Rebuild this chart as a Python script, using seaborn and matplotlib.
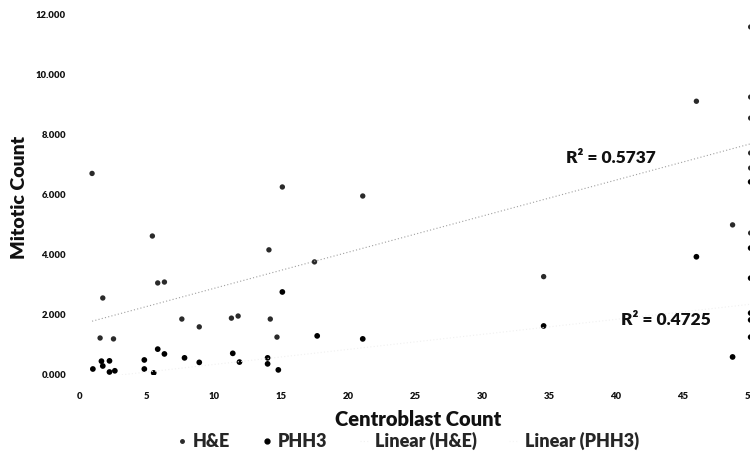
import numpy as np
import pandas as pd
import seaborn as sns
import matplotlib
matplotlib.use("Agg")
import matplotlib.pyplot as plt
from matplotlib.lines import Line2D

sns.set_style("white")
plt.rcParams['font.family'] = ['Lato', 'DejaVu Sans']
plt.rcParams['font.weight'] = 'heavy'

# H&E mitotic counts vs centroblast count
hne_x = [0.9, 5.4, 5.8, 6.3, 1.7, 7.6, 8.9, 11.3, 11.8, 1.5, 2.5, 15.1, 21.1, 14.1,
         17.5, 14.2, 14.7, 34.6, 46.0, 48.7, 50.05, 50.05, 50.05, 50.05, 50.05, 50.05]
hne_y = [6.70, 4.62, 3.06, 3.09, 2.56, 1.86, 1.60, 1.89, 1.96, 1.23, 1.20, 6.25, 5.95, 4.16,
         3.76, 1.86, 1.26, 3.27, 9.10, 4.99, 11.57, 9.24, 8.54, 7.38, 6.88, 4.72]

# PHH3 mitotic counts
phh3_x = [0.96, 1.6, 1.7, 2.2, 2.2, 2.6, 4.8, 4.8, 5.5, 5.8, 6.3, 7.8, 8.9, 11.4, 11.9,
          15.1, 17.7, 21.1, 14.0, 14.0, 14.8, 34.6, 46.0, 48.7,
          50.05, 50.05, 50.05, 50.05, 50.05, 50.05]
phh3_y = [0.20, 0.46, 0.30, 0.47, 0.10, 0.14, 0.50, 0.20, 0.07, 0.86, 0.70, 0.57, 0.42, 0.72, 0.43,
          2.76, 1.30, 1.20, 0.57, 0.37, 0.17, 1.63, 3.93, 0.60,
          6.42, 4.22, 3.22, 2.06, 1.83, 1.26]

# linear trend lines (intercept, slope) and R²
hne_fit = (1.68, 0.12)
phh3_fit = (-0.15, 0.05)
hne_r2 = "0.5737"
phh3_r2 = "0.4725"

df_hne = pd.DataFrame({"x": hne_x, "y": hne_y})
df_phh3 = pd.DataFrame({"x": phh3_x, "y": phh3_y})

fig = plt.figure(figsize=(7.5, 4.53), dpi=100)
ax = fig.add_axes([80/750, 78/453, 55*13.4/750, 361/453])

sns.scatterplot(data=df_hne, x="x", y="y", ax=ax, color="#2a2a2a", s=15,
                edgecolor="none", legend=False)
sns.scatterplot(data=df_phh3, x="x", y="y", ax=ax, color="#000000", s=17,
                edgecolor="none", legend=False)

xs = np.array([0.9, 50.3])
ax.plot(xs, hne_fit[0] + hne_fit[1]*xs, color="#a0a0a0", lw=0.8, ls=(0, (1, 2)))
ax.plot(xs, phh3_fit[0] + phh3_fit[1]*xs, color="#f0f0f0", lw=0.8, ls=(0, (1, 2)))

ax.set_xlim(0, 55)
ax.set_ylim(0, 12)
ax.set_xticks(np.arange(0, 56, 5))
ax.set_yticks(np.arange(0, 13, 2))
ax.set_yticklabels([f"{v:.3f}" for v in np.arange(0, 13, 2)])
ax.tick_params(axis='both', length=0, labelsize=6.8, colors="#111111")
ax.tick_params(axis='y', pad=10)
ax.tick_params(axis='x', pad=12)
for sp in ax.spines.values():
    sp.set_visible(False)

ax.set_xlabel("Centroblast Count", fontsize=14.5, fontweight='heavy', color="#111111")
ax.set_ylabel("Mitotic Count", fontsize=14, fontweight='heavy', color="#111111")
ax.xaxis.set_label_coords((418-80)/(55*13.4), -(410-375)/361)
ax.yaxis.set_label_coords(-(80-28)/(55*13.4), (375-197)/361)

ax.text(39.6, 7.21, "R² = " + hne_r2, fontsize=12.5, color="#111111",
        ha='center', va='center')
ax.text(43.7, 1.83, "R² = " + phh3_r2, fontsize=12.5, color="#111111",
        ha='center', va='center')

handles = [
    Line2D([], [], ls='none', marker='o', markersize=2.5, color="#2a2a2a"),
    Line2D([], [], ls='none', marker='o', markersize=3.5, color="#000000"),
    Line2D([], [], color="#f2f2f2", lw=0.8, ls=(0, (1, 2))),
    Line2D([], [], color="#f6f6f6", lw=0.8, ls=(0, (1, 2))),
]
labels = ["H&E", "PHH3", "Linear (H&E)", "Linear (PHH3)"]
fig.legend(handles, labels, loc='center', bbox_to_anchor=(408/750, 1-441/453), ncol=4,
           frameon=False, handlelength=0.5, handletextpad=0.35,
           columnspacing=1.8, prop={'weight': 'heavy', 'size': 13})

fig.savefig("out.png", dpi=100)
